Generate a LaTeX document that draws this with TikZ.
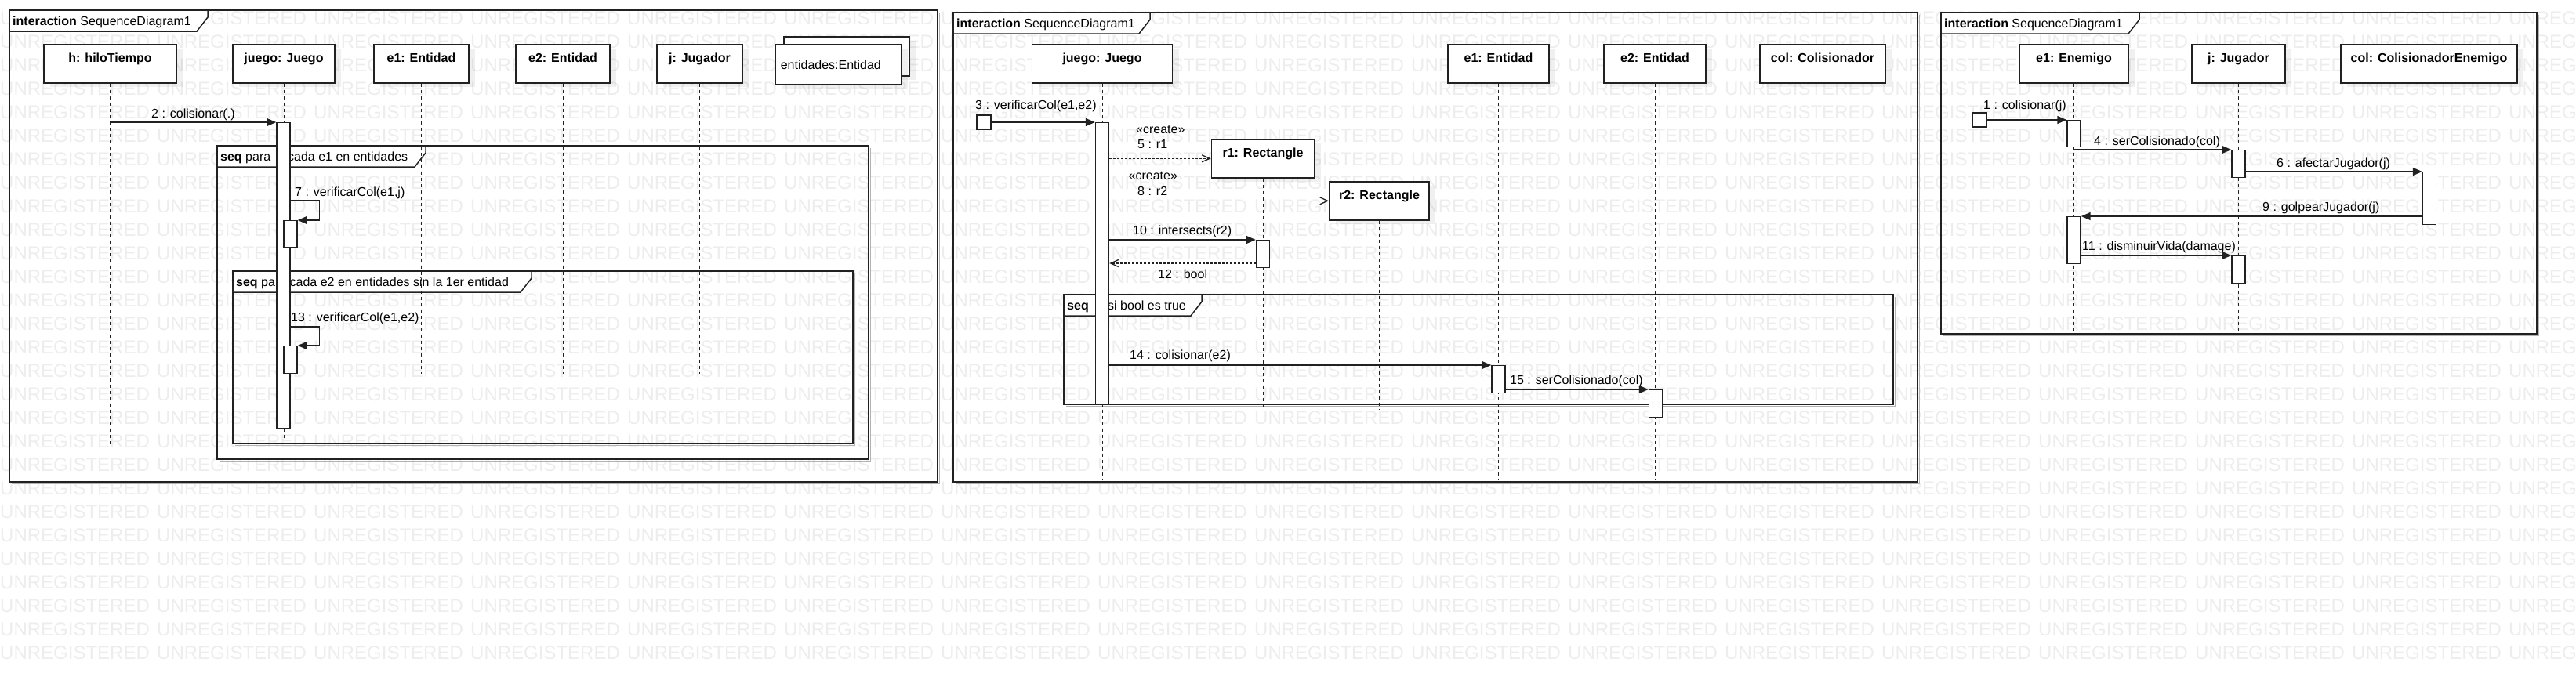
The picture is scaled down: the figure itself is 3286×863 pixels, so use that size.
\documentclass[tikz,border=0pt]{standalone}
\usepackage{fontspec}
\setmainfont{Liberation Sans}
\usepackage{tikz}
\usetikzlibrary{arrows.meta,shadows}
\definecolor{ink}{gray}{0.13}
\definecolor{wmgray}{gray}{0.93}
\newcommand{\sdfont}{\fontsize{16}{19}\selectfont}
\tikzstyle{sdframe}=[draw=ink, line width=1.6pt]
\tikzstyle{frameshade}=[draw=black!30, line width=1pt]
\tikzstyle{sdtab}=[draw=ink, fill=white, line width=1.5pt]
\tikzstyle{tablabel}=[anchor=base west, inner sep=0pt, font=\sdfont]
\tikzstyle{objbox}=[draw=ink, fill=white, line width=1.6pt, font=\sdfont\bfseries, inner xsep=0pt, inner ysep=0pt, text height=23pt, text depth=26pt, anchor=north, drop shadow={shadow xshift=8pt, shadow yshift=-5pt, fill=black, opacity=.06}]
\tikzstyle{multibox}=[draw=ink, fill=white, line width=1.6pt, anchor=north west, inner ysep=0pt, font=\sdfont, drop shadow={shadow xshift=8pt, shadow yshift=-5pt, fill=black, opacity=.06}]
\tikzstyle{lifeline}=[draw=ink, line width=1pt, dash pattern=on 4pt off 4pt]
\tikzstyle{barbox}=[draw=ink, fill=white, line width=1.4pt, minimum width=17pt, inner sep=0pt, anchor=north]
\tikzstyle{foundmsg}=[draw=ink, fill=white, line width=1.4pt, minimum size=18pt, inner sep=0pt]
\tikzstyle{syncmsg}=[draw=ink, line width=1.5pt, -{Triangle[length=12pt,width=10pt]}]
\tikzstyle{createmsg}=[draw=ink, line width=1.3pt, dash pattern=on 3pt off 2pt, -{Straight Barb[length=10pt,width=9pt]}]
\tikzstyle{replymsg}=[createmsg]
\tikzstyle{msglabel}=[anchor=base west, inner sep=0pt, font=\sdfont]
\tikzstyle{wmark}=[anchor=base west, inner sep=0pt, text=wmgray, font=\fontsize{24}{28}\selectfont]
% frame: name, x1, y1, x2, y2, tab right, kind, title
\newcommand{\umlframe}[8]{
	\draw[frameshade] (#4+2,#3+3) -- (#4+2,#5+2) -- (#2+3,#5+2);
	\draw[sdframe] (#2,#3) rectangle (#4,#5);
	\filldraw[sdtab] (#2,#3) -- (#6,#3) -- (#6,#3+9) -- (#6-14,#3+27) -- (#2,#3+27) -- cycle;
	\node[tablabel] (#1) at (#2+4,#3+19) {\textbf{#7} #8};
}
% object: name, centre x, top y, width, label
\newcommand{\sdobject}[5]{
	\node[objbox, minimum width=#4pt] (#1) at (#2,#3) {#5};
}
\newcommand{\lifeline}[2]{
	\coordinate (#1-end) at (#1.south |- 0,#2);
	\draw[lifeline] (#1.south) -- (#1-end);
}
% activation: name, centre x, top y, height
\newcommand{\actbar}[4]{
	\node[barbox, minimum height=#4pt] (#1) at (#2,#3) {};
}

\begin{document}
\begin{tikzpicture}[x=1pt, y=-1pt, font=\sdfont]
	\useasboundingbox (0,0) rectangle (3286,863);
	\foreach \r in {0,...,27}
		\foreach \c in {0,...,16}
			\node[wmark] (wm-\r-\c) at (200*\c, 31.5+30*\r) {UNREGISTERED};
%
	\umlframe{t1}{12}{13}{1196}{615}{265}{interaction}{SequenceDiagram1}
	\umlframe{s1}{277}{186}{1108}{586}{543}{seq}{para\hspace*{17.5pt} cada e1 en entidades}
	\umlframe{s2}{297}{346}{1088}{566}{678}{seq}{para cada e2 en entidades sin la 1er entidad}
	\sdobject{h}{140.5}{56}{169}{h: hiloTiempo}
	\sdobject{juego}{362}{56}{130}{juego: Juego}
	\sdobject{ea}{537.5}{56}{121}{e1: Entidad}
	\sdobject{eb}{718}{56}{120}{e2: Entidad}
	\sdobject{jug}{892.5}{56}{109}{j: Jugador}
	\node[multibox, minimum width=160pt, minimum height=50pt] (entsb) at (999,46) {};
	\node[multibox, minimum height=51pt, text width=147pt, inner xsep=7pt, align=left] (ents) at (988,56) {entidades:Entidad};
	\lifeline{h}{567}
	\lifeline{juego}{560}
	\lifeline{ea}{477}
	\lifeline{eb}{477}
	\lifeline{jug}{477}
	\actbar{jb1}{361.5}{156}{390}
	\actbar{jb2}{370.5}{281}{34}
	\actbar{jb3}{370.5}{441}{35}
	\draw[syncmsg] (h |- jb1.north) -- (jb1.north west);
	\node[msglabel] (l2) at (193,150) {2 : colisionar(.)};
	\coordinate (c7) at (jb1.east |- 0,256);
	\draw[syncmsg] (c7) -- ++(37,0) |- (jb2.north east);
	\node[msglabel] (l7) at (376,250) {7 : verificarCol(e1,j)};
	\coordinate (c13) at (jb1.east |- 0,417);
	\draw[syncmsg] (c13) -- ++(37,0) |- (jb3.north east);
	\node[msglabel] (l13) at (371,410) {13 : verificarCol(e1,e2)};
%
	\umlframe{t2}{1216}{16}{2446}{615}{1467}{interaction}{SequenceDiagram1}
	\umlframe{s3}{1357}{376}{2415}{516}{1533}{seq}{\hspace*{20pt}si bool es true}
	\sdobject{juego2}{1406}{56}{179}{juego: Juego}
	\sdobject{r1}{1611}{177}{131}{r1: Rectangle}
	\sdobject{r2}{1759.5}{231}{127}{r2: Rectangle}
	\sdobject{e1}{1911.5}{56}{129}{e1: Entidad}
	\sdobject{e2}{2111}{56}{130}{e2: Entidad}
	\sdobject{col}{2325}{56}{160}{col: Colisionador}
	\lifeline{juego2}{613}
	\lifeline{r1}{523}
	\lifeline{r2}{523}
	\lifeline{e1}{613}
	\lifeline{e2}{613}
	\lifeline{col}{613}
	\actbar{gb1}{1406}{156}{359}
	\actbar{rb1}{1611}{306}{35}
	\actbar{eb1}{1911.5}{466}{35}
	\actbar{eb2}{2112}{497}{35}
	\node[foundmsg] (fd3) at (1255,156) {};
	\draw[syncmsg] (fd3.east) -- (fd3.east -| gb1.west);
	\node[msglabel] (l3) at (1244,139) {3 : verificarCol(e1,e2)};
	\draw[createmsg] (gb1.east |- r1.west) -- (r1.west);
	\node[msglabel] (l5a) at (1449,170) {«create»};
	\node[msglabel] (l5) at (1451,189) {5 : r1};
	\draw[createmsg] (gb1.east |- r2.west) -- (r2.west);
	\node[msglabel] (l8a) at (1439.5,229) {«create»};
	\node[msglabel] (l8) at (1451,249) {8 : r2};
	\draw[syncmsg] (gb1.east |- rb1.north) -- (rb1.north west);
	\node[msglabel] (l10) at (1445,299) {10 : intersects(r2)};
	\coordinate (c12) at (rb1.west |- 0,336);
	\draw[replymsg] (c12) -- (gb1.east |- c12);
	\node[msglabel] (l12) at (1477,355) {12 : bool};
	\draw[syncmsg] (gb1.east |- eb1.north) -- (eb1.north west);
	\node[msglabel] (l14) at (1441,458) {14 : colisionar(e2)};
	\draw[syncmsg] (eb1.east |- eb2.north) -- (eb2.north west);
	\node[msglabel] (l15) at (1926,490) {15 : serColisionado(col)};
%
	\umlframe{t3}{2476}{16}{3236}{426}{2729}{interaction}{SequenceDiagram1}
	\sdobject{en}{2645.5}{56}{139}{e1: Enemigo}
	\sdobject{jg}{2855.5}{56}{119}{j: Jugador}
	\sdobject{ce}{3098.5}{56}{225}{col: ColisionadorEnemigo}
	\lifeline{en}{425}
	\lifeline{jg}{425}
	\lifeline{ce}{425}
	\actbar{nb1}{2645.5}{153}{34}
	\actbar{jgb1}{2855.5}{191}{35}
	\actbar{cb1}{3099}{219}{67}
	\actbar{nb2}{2645.5}{276}{60}
	\actbar{jgb2}{2855.5}{326}{35}
	\node[foundmsg] (fd1) at (2525,153) {};
	\draw[syncmsg] (fd1.east) -- (fd1.east -| nb1.west);
	\node[msglabel] (l1) at (2530,139) {1 : colisionar(j)};
	\draw[syncmsg] (en |- jgb1.north) -- (jgb1.north west);
	\node[msglabel] (l4) at (2671,185) {4 : serColisionado(col)};
	\draw[syncmsg] (jgb1.east |- cb1.north) -- (cb1.north west);
	\node[msglabel] (l6) at (2904,213) {6 : afectarJugador(j)};
	\draw[syncmsg] (cb1.west |- nb2.north) -- (nb2.north east);
	\node[msglabel] (l9) at (2886,269) {9 : golpearJugador(j)};
	\draw[syncmsg] (nb2.east |- jgb2.north) -- (jgb2.north west);
	\node[msglabel] (l11) at (2656,319) {11 : disminuirVida(damage)};
\end{tikzpicture}
\end{document}
